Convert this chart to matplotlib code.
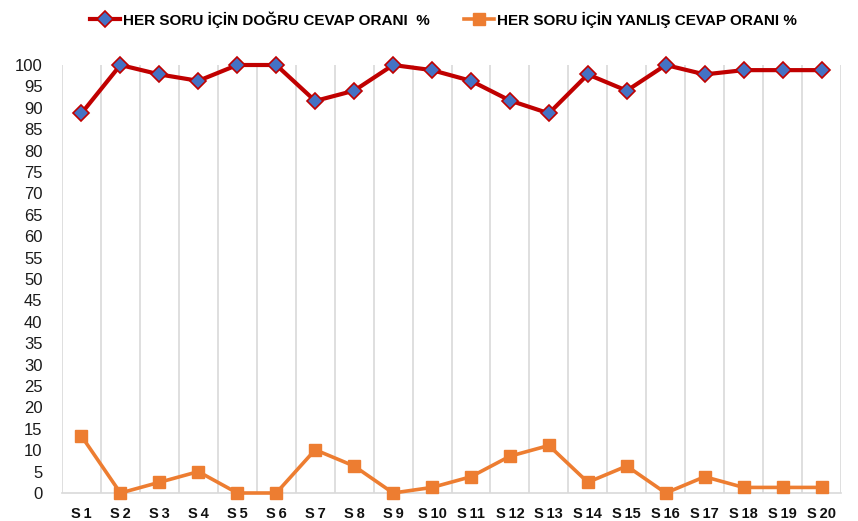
import matplotlib.pyplot as plt
import numpy as np

plt.rcParams['font.family'] = ['Liberation Sans', 'DejaVu Sans']

sorular = ["S1", "S2", "S3", "S4", "S5", "S6", "S7", "S8", "S9", "S10",
           "S11", "S12", "S13", "S14", "S15", "S16", "S17", "S18", "S19", "S20"]
dogru = [88.7, 100, 97.8, 96.3, 100, 100, 91.6, 94.0, 100, 98.8,
         96.3, 91.7, 88.7, 97.8, 94.0, 100, 97.8, 98.8, 98.8, 98.8]
yanlis = [13.3, 0, 2.5, 5.0, 0, 0, 10.1, 6.3, 0, 1.3,
          3.8, 8.6, 11.1, 2.5, 6.3, 0, 3.8, 1.3, 1.3, 1.3]
yticks = list(range(0, 101, 5))

fig = plt.figure(figsize=(8.58, 5.21), dpi=100)
ax = fig.add_axes([62 / 858, 1 - 493 / 521, 779 / 858, 428 / 521])

x = np.arange(len(sorular))
ax.plot(x, dogru, color="#C00000", lw=3, marker="D", markersize=8.5,
        markerfacecolor="#4472C4", markeredgecolor="#C00000", markeredgewidth=1.2,
        clip_on=False, zorder=4, label="HER SORU İÇİN DOĞRU CEVAP ORANI  %")
ax.plot(x, yanlis, color="#ED7D31", lw=2.6, marker="s", markersize=8.5,
        markerfacecolor="#ED7D31", markeredgecolor="#ED7D31",
        clip_on=False, zorder=4, label="HER SORU İÇİN YANLIŞ CEVAP ORANI %")

ax.set_xlim(-0.5, len(sorular) - 0.5)
ax.set_ylim(0, 100)
ax.set_yticks(yticks)
ax.set_yticklabels([str(v) for v in yticks], fontsize=12, color="#1a1a1a")
ax.set_xticks(x)
ax.set_xticklabels([s[0] + "\u2009" + s[1:] for s in sorular], fontsize=10.5,
                   fontweight="bold", color="#111111")

# vertical gridlines between categories, like Excel
for b in np.arange(-0.5, len(sorular), 1.0):
    ax.axvline(b, color="#D9D9D9", lw=1.2, zorder=1)

for s in ["top", "right", "left"]:
    ax.spines[s].set_visible(False)
ax.spines["bottom"].set_color("#D9D9D9")
ax.spines["bottom"].set_linewidth(1.2)
ax.tick_params(axis="both", length=0)
ax.tick_params(axis="x", pad=10)
ax.tick_params(axis="y", pad=14)

fig.legend(loc="upper center", bbox_to_anchor=(0.517, 1.005), ncol=2, frameon=False,
           prop={"weight": "bold", "size": 11}, handlelength=2.0, columnspacing=2.2,
           handletextpad=0.2)

fig.savefig("out.png", dpi=100)
